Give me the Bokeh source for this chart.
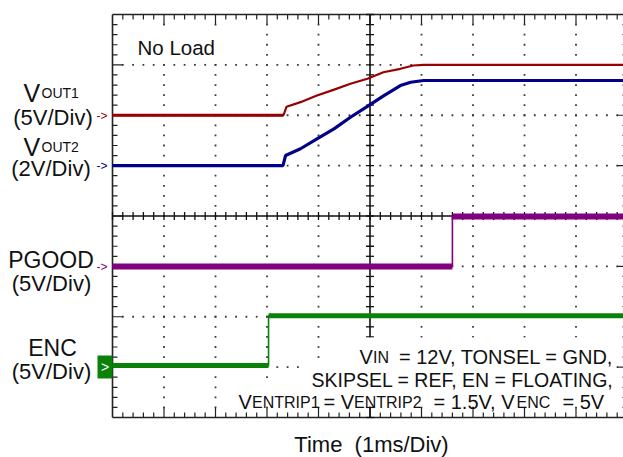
import numpy as np
from bokeh.plotting import figure
from bokeh.models import Range1d, ColumnDataSource
from bokeh.core.properties import value
from bokeh.embed import file_html
from bokeh.resources import INLINE

# ---------------- data (time in ms, 1 ms/div; volts) ----------------
vout1_t = [0.0, 3.32, 3.38, 3.65, 3.97, 4.29, 4.62, 4.95, 5.26, 5.59, 5.84, 6.04, 10.0]
vout1_v = [0.0, 0.0, 0.85, 1.30, 1.96, 2.52, 3.12, 3.62, 4.27, 4.61, 4.94, 5.00, 5.00]

vout2_t = [0.0, 3.31, 3.36, 3.65, 3.97, 4.30, 4.62, 4.95, 5.27, 5.59, 5.79, 6.04, 10.0]
vout2_v = [0.0, 0.0, 0.40, 0.67, 1.06, 1.46, 1.92, 2.35, 2.78, 3.18, 3.31, 3.38, 3.38]

pgood_t = [0.0, 6.60, 6.60, 10.0]
pgood_v = [0.0, 0.0, 4.95, 4.95]

enc_t = [0.0, 3.03, 3.03, 10.0]
enc_v = [0.15, 0.15, 5.10, 5.10]

# channel scale (V/div) and ground position (div from bottom)
vout1_vdiv, vout1_gnd = 5.0, 6.0
vout2_vdiv, vout2_gnd = 2.0, 5.0
pgood_vdiv, pgood_gnd = 5.0, 3.0
enc_vdiv, enc_gnd = 5.0, 1.0

channel_labels = ["(5V/Div)", "(2V/Div)", "PGOOD", "(5V/Div)", "ENC", "(5V/Div)"]
x_label = "Time\u00a0 (1ms/Div)"
note = "No Load"

# ---------------- geometry helpers (canvas px -> divisions) ----------------
W, H = 623, 457
FRAME_L, DIV_W = 112.0, 51.5
FRAME_B, DIV_H = 417.0, 50.375


def X(px):
    return (px - FRAME_L) / DIV_W


def Y(py):
    return (FRAME_B - py) / DIV_H


p = figure(width=W, height=H,
           x_range=Range1d(X(0), X(W)), y_range=Range1d(Y(H), Y(0)),
           x_axis_location=None, y_axis_location=None,
           toolbar_location=None, output_backend="svg", min_border=0)
p.outline_line_color = None
p.background_fill_color = "white"
p.border_fill_color = "white"
p.grid.visible = False

FONT = value("Liberation Sans")
INK = "#111111"

# ---------------- graticule ----------------
xs_minor = np.round(np.arange(0, 10.001, 0.2), 3)
ys_minor = np.round(np.arange(0, 8.001, 0.2), 3)

dx, dy = [], []
for gx in [1, 2, 3, 4, 6, 7, 8, 9]:
    for yy in ys_minor[1:-1]:
        dx.append(gx); dy.append(yy)
for gy in [1, 2, 3, 5, 6, 7]:
    for xx in xs_minor[1:-1]:
        dx.append(xx); dy.append(gy)
p.scatter(dx, dy, marker="square", size=1.8, fill_color="#3c3c3c", line_color=None)


def tlen(v, major_px=10, minor_px=5):
    return major_px if abs(v - round(v)) < 1e-6 else minor_px


x0s, y0s, x1s, y1s = [], [], [], []
for xx in xs_minor[1:-1]:
    L = tlen(xx) / DIV_H
    x0s += [xx, xx]; x1s += [xx, xx]
    y0s += [8, 0]; y1s += [8 - L, L]
for yy in ys_minor[1:-1]:
    L = tlen(yy) / DIV_W
    y0s += [yy, yy]; y1s += [yy, yy]
    x0s += [0, 10]; x1s += [L, 10 - L]
p.segment(x0s, y0s, x1s, y1s, line_color="#222222", line_width=1.2)

# frame border
p.segment([0, 0, 0, 10], [0, 8, 0, 0], [0, 10, 10, 10], [8, 8, 0, 8],
          line_color="#222222", line_width=1.6)

# center axes with ticks
p.segment([5, 0], [0, 4], [5, 10], [8, 4], line_color="#111111", line_width=1.6)
p.scatter([5] * len(ys_minor), ys_minor, marker="dash", size=8,
          line_color="#111111", line_width=1.3)
p.scatter(xs_minor, [4] * len(xs_minor), marker="dash", angle=np.pi / 2, size=8,
          line_color="#111111", line_width=1.3)

# ---------------- traces ----------------
def to_div(v, vdiv, gnd):
    return gnd + np.asarray(v, dtype=float) / vdiv


y1 = to_div(vout1_v, vout1_vdiv, vout1_gnd)
y2 = to_div(vout2_v, vout2_vdiv, vout2_gnd)
y3 = to_div(pgood_v, pgood_vdiv, pgood_gnd)
y4 = to_div(enc_v, enc_vdiv, enc_gnd)

p.line(vout1_t, y1, line_color="#990000", line_width=2.2)
p.line(vout1_t[:2], y1[:2], line_color="#990000", line_width=3.2)
p.line(vout2_t, y2, line_color="#000088", line_width=3.2)


def step_trace(t, y, color, thick):
    p.line(t, y, line_color=color, line_width=1.6)
    sx0, sx1, sy = [], [], []
    for i in range(len(t) - 1):
        if abs(y[i] - y[i + 1]) < 1e-9:
            sx0.append(t[i]); sx1.append(t[i + 1]); sy.append(y[i])
    p.segment(sx0, sy, sx1, sy, line_color=color, line_width=thick)


step_trace(pgood_t, y3, "#800080", 6)
step_trace(enc_t, y4, "#0a820a", 5)

# ---------------- texts ----------------
def txt(items, align="left", baseline="alphabetic", color=INK):
    src = ColumnDataSource(dict(
        x=[X(i[1]) for i in items], y=[Y(i[2]) for i in items],
        text=[i[0] for i in items], size=["%spx" % i[3] for i in items]))
    p.text(x="x", y="y", text="text", source=src, text_font=FONT,
           text_font_size="size", text_align=align, text_baseline=baseline,
           text_color=color)


def white_box(l, r, t, b):
    p.quad(left=[X(l)], right=[X(r)], top=[Y(t)], bottom=[Y(b)],
           fill_color="white", line_color=None)


# left channel labels
txt([(channel_labels[0], 52.5, 117, 22), (channel_labels[1], 50.5, 168, 22),
     (channel_labels[2], 50.5, 259, 23), (channel_labels[3], 51, 283, 22),
     (channel_labels[4], 52, 347, 23), (channel_labels[5], 51, 371, 22)],
    align="center")
txt([("V", 23, 92, 25), ("OUT1", 41, 92, 14), ("V", 23, 146, 25), ("OUT2", 41, 146, 14)])

# ground markers
txt([("->", 96, 115, 12)], baseline="middle", color="#990000")
txt([("->", 96, 165, 12)], baseline="middle", color="#000088")
txt([("->", 96, 266.5, 12)], baseline="middle", color="#800080")
p.quad(left=[X(97)], right=[X(112)], top=[Y(355)], bottom=[Y(378)],
       fill_color="#0a820a", line_color=None)
txt([(">", 104.5, 366.5, 14)], align="center", baseline="middle", color="white")

# "No Load" with white backing
white_box(134, 218, 28, 57)
txt([(note, 137, 47.3, 20.5)])

# x label
txt([(x_label, 371, 444, 22)], align="center")

# conditions box (white backing per line)
white_box(355, 616, 337, 361)
white_box(303, 616, 361, 384)
white_box(235, 610, 384, 406)
txt([("V", 359, 356.5, 20), ("IN", 372.5, 356.5, 16),
     ("V", 238, 401.5, 20), ("ENTRIP1", 251.5, 401.5, 16), ("= V", 323, 401.5, 20),
     ("ENTRIP2", 353.5, 401.5, 16), ("= 1.5V, V", 433, 401.5, 20),
     ("ENC", 516, 401.5, 16), ("= 5V", 562, 401.5, 20)])
txt([("= 12V, TONSEL = GND,", 613, 356.5, 20),
     ("SKIPSEL = REF, EN = FLOATING,", 613, 379.5, 19.5)], align="right")

open("out.html", "w").write(file_html(p, INLINE))
